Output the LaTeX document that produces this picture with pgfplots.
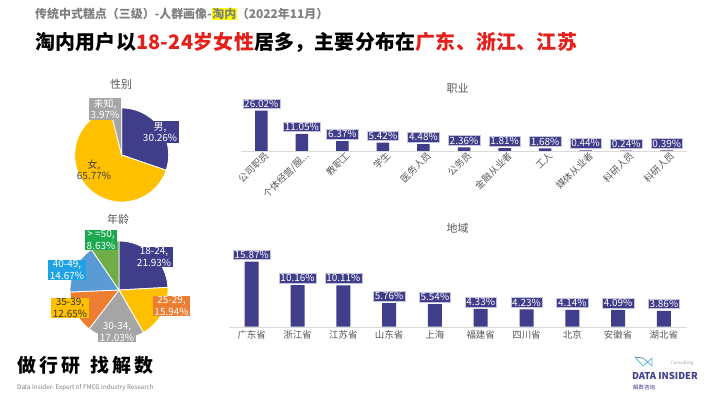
\documentclass[border=0pt]{standalone}
\usepackage{pgfplots}
\pgfplotsset{compat=1.18}
\usepackage{fontspec}
\setmainfont{Noto Sans CJK SC}
\definecolor{navy}{HTML}{403D8B}
\definecolor{gold}{HTML}{FFC000}
\definecolor{pgray}{HTML}{A5A5A5}
\definecolor{porange}{HTML}{ED7D31}
\definecolor{pblue}{HTML}{5B9BD5}
\definecolor{pgreen}{HTML}{70AD47}
\definecolor{lblue}{HTML}{1FA2E3}
\definecolor{lgreen}{HTML}{1BA84F}
\definecolor{subgray}{HTML}{7F7F7F}
\definecolor{titgray}{HTML}{595959}
\definecolor{tickgray}{HTML}{595959}
\definecolor{linegray}{HTML}{D9D9D9}
\definecolor{red}{HTML}{E3201B}
\definecolor{hl}{HTML}{FFFF00}
\definecolor{logoteal}{HTML}{5BB8D0}
\newcommand{\ellip}{.\kern0.3bp.\kern0.3bp.}
\begin{document}
\begin{tikzpicture}[x=1bp,y=1bp]
\fill[white] (0,0) rectangle (710,399);
% titles
\node[anchor=west, inner sep=0, text=subgray, font=\fontsize{12}{14}\selectfont\bfseries] at (35,385)
 {传统中式糕点（三级）-人群画像-{\setlength{\fboxsep}{0.6bp}\colorbox{hl}{淘内}}（2022年11月）};
\node[anchor=west, inner sep=0, font=\fontsize{20}{23}\selectfont\bfseries\addfontfeature{LetterSpace=1.5}] at (35,357)
 {淘内用户以\textcolor{red}{18-24岁女性}居多，主要分布在\textcolor{red}{广东、浙江、江苏}};
% chart titles
\begin{scope}[every node/.style={text=titgray, font=\fontsize{11}{13}\selectfont}]
\node at (121,315) {性别};
\node at (118,180) {年龄};
\node at (457.5,311) {职业};
\node at (457.5,171) {地域};
\end{scope}
% gender pie
\gdef\startang{90}
\foreach \v/\c in {30.26/navy, 65.77/gold, 3.97/pgray}{
  \pgfmathsetmacro\endang{\startang-\v/100*360}
  \fill[\c, draw=white, line width=0.8bp] (121.7,244) -- ++(\startang:47) arc[start angle=\startang, end angle=\endang, radius=47] -- cycle;
  \xdef\startang{\endang}
}
% age pie
\gdef\startang{90}
\foreach \v/\c in {21.93/navy, 15.94/gold, 17.03/pgray, 12.65/porange, 14.67/pblue, 8.63/pgreen}{
  \pgfmathsetmacro\endang{\startang-\v/90.85*360}
  \fill[\c, draw=white, line width=0.8bp] (119,109) -- ++(\startang:49) arc[start angle=\startang, end angle=\endang, radius=49] -- cycle;
  \xdef\startang{\endang}
}
% pie labels
\begin{scope}[every node/.style={align=center, font=\fontsize{10}{11.5}\selectfont, inner xsep=1.5bp, inner ysep=1bp}]
\node[fill=navy, text=white] at (160,267) {男,\\30.26\%};
\node[text=black!75] at (94,229) {女,\\65.77\%};
\node[fill=pgray, text=white] at (105,290) {未知,\\3.97\%};
\node[fill=navy, text=white] at (154,142) {18-24,\\21.93\%};
\node[fill=porange, text=white] at (171.5,93) {25-29,\\15.94\%};
\node[fill=pgray, text=white] at (117,67) {30-34,\\17.03\%};
\node[fill=gold, text=black!80] at (70,91) {35-39,\\12.65\%};
\node[fill=lblue, text=white] at (67,129) {40-49,\\14.67\%};
\node[fill=lgreen, text=white] at (101,159) {> =50,\\8.63\%};
\end{scope}
% occupation bars
\begin{axis}[at={(241bp,248bp)}, anchor=south west, scale only axis,
  width=446bp, height=46.5bp, xmin=-0.5, xmax=10.5, ymin=0, ymax=30,
  axis y line=none, axis x line*=bottom, x axis line style={draw=linegray, -},
  xtick={0,1,2,3,4,5,6,7,8,9,10}, major tick length=0,
  xticklabels={公司职员,{个体经营/服\ellip},教职工,学生,医务人员,公务员,金融从业者,工人,媒体从业者,科研人员,科研人员},
  xticklabel style={rotate=45, anchor=east, text=tickgray, font=\fontsize{9.5}{11}\selectfont, inner sep=1bp, yshift=-6bp, xshift=3bp},
  /pgf/number format/assume math mode=true,
  ybar, bar width=12.5bp, clip=false,
  nodes near coords={\pgfmathprintnumber[fixed, fixed zerofill, precision=2, assume math mode=true]{\pgfplotspointmeta}\%},
  nodes near coords style={fill=navy, text=white, font=\fontsize{10}{11}\selectfont, inner xsep=1.5bp, inner ysep=1bp, draw=navy!30, line width=0.4bp, yshift=2bp},
  ]
\addplot[fill=navy, draw=none] coordinates {(0,26.02) (1,11.05) (2,6.37) (3,5.42) (4,4.48) (5,2.36) (6,1.81) (7,1.68) (8,0.44) (9,0.24) (10,0.39)};
\end{axis}
% region bars
\begin{axis}[at={(228.8bp,72.3bp)}, anchor=south west, scale only axis,
  width=458bp, height=73.7bp, xmin=-0.5, xmax=9.5, ymin=0, ymax=18,
  axis y line=none, axis x line*=bottom, x axis line style={draw=linegray, -},
  xtick={0,1,2,3,4,5,6,7,8,9}, major tick length=0,
  xticklabels={广东省,浙江省,江苏省,山东省,上海,福建省,四川省,北京,安徽省,湖北省},
  xticklabel style={text=tickgray, font=\fontsize{9.5}{11}\selectfont, inner sep=1bp, yshift=-3bp},
  /pgf/number format/assume math mode=true,
  ybar, bar width=14bp, clip=false,
  nodes near coords={\pgfmathprintnumber[fixed, fixed zerofill, precision=2, assume math mode=true]{\pgfplotspointmeta}\%},
  nodes near coords style={fill=navy, text=white, font=\fontsize{10}{11}\selectfont, inner xsep=1.5bp, inner ysep=1bp, draw=navy!30, line width=0.4bp, yshift=2bp},
  ]
\addplot[fill=navy, draw=none] coordinates {(0,15.87) (1,10.16) (2,10.11) (3,5.76) (4,5.54) (5,4.33) (6,4.23) (7,4.14) (8,4.09) (9,3.86)};
\end{axis}
% footer
\node[anchor=west, inner sep=0, font=\fontsize{19}{21}\selectfont\bfseries\addfontfeature{LetterSpace=17}] at (17,34) {做行研\hspace{10bp}找解数};
\node[anchor=west, inner sep=0, text=subgray, font=\fontsize{6.3}{7}\selectfont] at (17,11) {Data Insider- Expert of FMCG Industry Research};
% logo
\draw[logoteal, line width=0.8bp, line join=round] (635,42) -- (643,33) -- (652,41) -- (652,33) -- (643,41);
\draw[navy!70, line width=0.8bp] (635,42) -- (643,41);
\node[text=pgray, font=\fontsize{4.5}{5}\selectfont, inner sep=0] at (682,36) {Consulting};
\node[text=navy, font=\fontsize{9.5}{11}\selectfont\bfseries, inner sep=0] at (665,23) {DATA INSIDER};
\node[anchor=west, text=navy, font=\fontsize{5.5}{6}\selectfont, inner sep=0] at (633,12) {解数咨询};
\end{tikzpicture}
\end{document}
